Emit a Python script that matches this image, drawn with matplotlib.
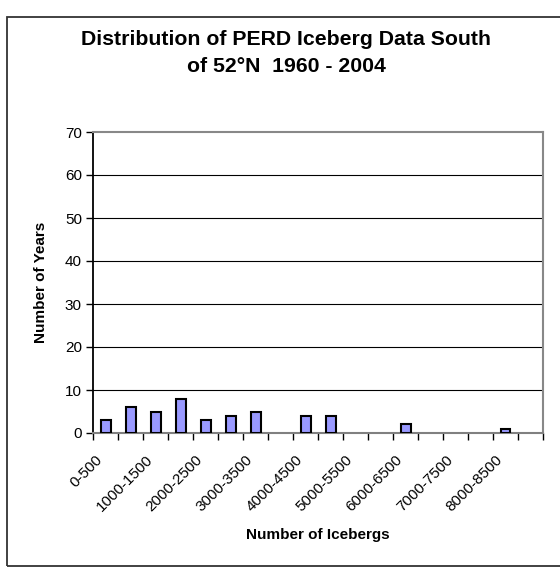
import matplotlib
matplotlib.use('Agg')
import matplotlib.pyplot as plt
from matplotlib.patches import Rectangle
from matplotlib.transforms import ScaledTranslation

plt.rcParams['font.family'] = ['Liberation Sans', 'DejaVu Sans']

# iceberg count bins (500 wide) and number of years in each
bins = ['0-500', '500-1000', '1000-1500', '1500-2000', '2000-2500', '2500-3000',
        '3000-3500', '3500-4000', '4000-4500', '4500-5000', '5000-5500', '5500-6000',
        '6000-6500', '6500-7000', '7000-7500', '7500-8000', '8000-8500', '8500-9000']
years = [3, 6, 5, 8, 3, 4, 5, 0, 4, 4, 0, 0, 2, 0, 0, 0, 1, 0]
y_ticks = [0, 10, 20, 30, 40, 50, 60, 70]

fig = plt.figure(figsize=(5.6, 5.67), dpi=100)
ax = fig.add_axes([93 / 560, 1 - 433 / 567, 450 / 560, 301 / 567])

x = list(range(len(bins)))
edges = ['black' if v > 0 else 'none' for v in years]
ax.bar(x, years, width=0.4, color='#9999ff', edgecolor=edges, linewidth=1.5, zorder=3)

ax.set_xlim(-0.5, len(bins) - 0.5)
ax.set_ylim(0, 70)
ax.set_yticks(y_ticks)
ax.tick_params(axis='y', direction='out', length=5, width=1, labelsize=11, pad=3)
for v in y_ticks[1:-1]:
    ax.axhline(v, color='black', linewidth=0.8, zorder=1)

# labels on every other bin, tick marks on bin boundaries
ax.set_xticks(x[::2])
ax.set_xticklabels(bins[::2], rotation=45, ha='right', rotation_mode='anchor', fontsize=11)
ax.tick_params(axis='x', which='major', length=0, pad=12)
ax.set_xticks([i - 0.5 for i in range(len(bins) + 1)], minor=True)
ax.tick_params(axis='x', which='minor', direction='out', length=5, width=1)
shift = ScaledTranslation(-0.1, -0.03, fig.dpi_scale_trans)
for lbl in ax.get_xticklabels():
    lbl.set_transform(lbl.get_transform() + shift)

ax.spines['left'].set_color('black')
ax.spines['left'].set_linewidth(1.3)
ax.spines['bottom'].set_color('#808080')
ax.spines['bottom'].set_linewidth(1.5)
ax.spines['top'].set_color('#888888')
ax.spines['top'].set_linewidth(1.5)
ax.spines['right'].set_color('#888888')
ax.spines['right'].set_linewidth(1.5)

ax.set_xlabel('Number of Icebergs', fontsize=11, fontweight='bold', labelpad=10)
ax.set_ylabel('Number of Years', fontsize=11, fontweight='bold', labelpad=12)

fig.text(286 / 560, 1 - 53 / 567, 'Distribution of PERD Iceberg Data South\nof 52\u00b0N  1960 - 2004',
         ha='center', va='center', fontsize=15.3, fontweight='bold', linespacing=1.55)

fig.add_artist(Rectangle((7 / 560, 1 / 567), 1.0, 549 / 567, transform=fig.transFigure,
                         fill=False, edgecolor='#333333', linewidth=1.3))

fig.savefig('out.png', dpi=100)
